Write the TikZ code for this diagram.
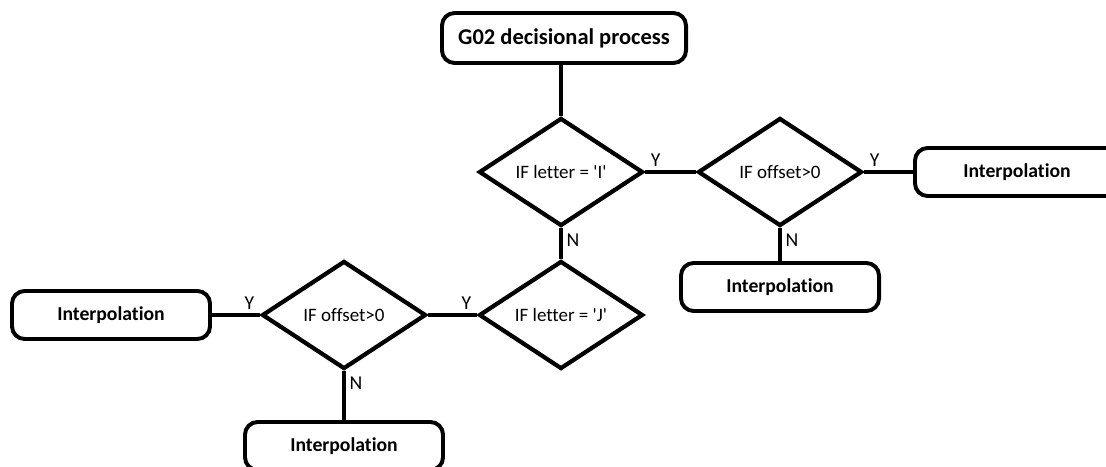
\documentclass[tikz,border=0pt]{standalone}
\usepackage{fontspec}
\setmainfont{Carlito}[Ligatures=NoCommon]
\usetikzlibrary{shapes.geometric}

\begin{document}
\begin{tikzpicture}[x=0.025cm, y=-0.025cm,
    decision/.style={diamond, draw, line width=3pt, aspect=1.5, inner sep=0pt,
        minimum width=4.1cm, minimum height=2.7cm, font=\fontsize{13.5}{16}\selectfont},
    terminal/.style={draw, line width=2.8pt, rounded corners=9pt, minimum width=4.95cm,
        minimum height=1.2cm, font=\bfseries\fontsize{14}{17}\selectfont},
    link/.style={line width=3pt},
    answer/.style={font=\fontsize{14}{17}\selectfont, inner sep=2.5pt}]
    % Page size
    \useasboundingbox (0,0) rectangle (1106,467);

    % Draw start box
    \node[terminal, minimum width=6.1cm, minimum height=1.25cm,
        font=\bfseries\fontsize{16}{19}\selectfont] (start) at (564,38) {G02 decisional process};

    % Draw decisions
    \node[decision] (letterI) at (561,172) {IF letter = \textquotesingle I\textquotesingle};
    \node[decision] (offsetI) at (780,172) {IF offset>0};
    \node[decision] (letterJ) at (561,315) {IF letter = \textquotesingle J\textquotesingle};
    \node[decision] (offsetJ) at (344,315) {IF offset>0};

    % Draw interpolation boxes
    \node[terminal, minimum width=5.1cm] (interpIY) at (1017,172) {Interpolation};
    \node[terminal] (interpIN) at (780,287) {Interpolation};
    \node[terminal] (interpJY) at (111,315) {Interpolation};
    \node[terminal] (interpJN) at (344,446) {Interpolation};

    % Connectors
    \draw[link] (start.south -| letterI.north) -- (letterI.north);
    \draw[link] (letterI.east) -- node[answer, pos=0, above right] {Y} (offsetI.west);
    \draw[link] (letterI.south) -- node[answer, pos=0, below right] {N} (letterJ.north);
    \draw[link] (offsetI.east) -- node[answer, pos=0, above right] {Y} (interpIY.west);
    \draw[link] (offsetI.south) -- node[answer, pos=0, below right] {N} (interpIN.north);
    \draw[link] (letterJ.west) -- node[answer, pos=0, above left] {Y} (offsetJ.east);
    \draw[link] (offsetJ.west) -- node[answer, pos=0, above left] {Y} (interpJY.east);
    \draw[link] (offsetJ.south) -- node[answer, pos=0, below right] {N} (interpJN.north);

\end{tikzpicture}
\end{document}
